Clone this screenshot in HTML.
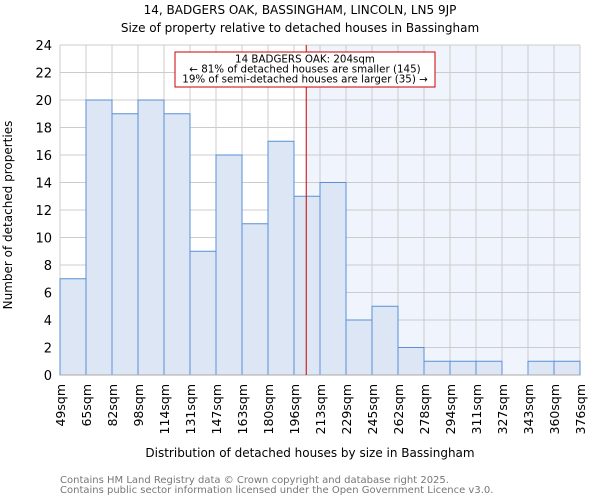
<!DOCTYPE html>
<html><head><meta charset="utf-8"><style>body{margin:0;background:#fff}svg{display:block;font-family:"DejaVu Sans","Liberation Sans",sans-serif}</style></head>
<body>
<svg id="c" width="600" height="500">
<text x="300" y="14" text-anchor="middle" font-size="12">14, BADGERS OAK, BASSINGHAM, LINCOLN, LN5 9JP</text>
<text x="300" y="32" text-anchor="middle" font-size="12">Size of property relative to detached houses in Bassingham</text>
<g id="plot"></g>
<text x="310" y="457" text-anchor="middle" font-size="12">Distribution of detached houses by size in Bassingham</text>
<text transform="translate(12,215) rotate(-90)" text-anchor="middle" font-size="12">Number of detached properties</text>
<text x="60" y="483" font-size="10" fill="#777">Contains HM Land Registry data © Crown copyright and database right 2025.</text>
<text x="60" y="493" font-size="10" fill="#777">Contains public sector information licensed under the Open Government Licence v3.0.</text>
</svg>
<script>
const categories=["49sqm","65sqm","82sqm","98sqm","114sqm","131sqm","147sqm","163sqm","180sqm","196sqm","213sqm","229sqm","245sqm","262sqm","278sqm","294sqm","311sqm","327sqm","343sqm","360sqm","376sqm"];
const counts=[7,20,19,20,19,9,16,11,17,13,14,4,5,2,1,1,1,0,1,1];
const yTicks=[0,2,4,6,8,10,12,14,16,18,20,22,24];
const markerBin=9+8/17;
const NS="http://www.w3.org/2000/svg";
const g=document.getElementById('plot');
const x0=60,x1=580,y0=375,y1=45,bw=(x1-x0)/counts.length;
const X=i=>x0+i*bw, Y=v=>y0-(v/24)*(y0-y1);
function el(t,a,p){const e=document.createElementNS(NS,t);for(const k in a)e.setAttribute(k,a[k]);(p||g).appendChild(e);return e;}
const mx=X(markerBin);
const sh=el('rect',{x:mx,y:y1,width:x1-mx,height:y0-y1,fill:'#f0f4fc'});


yTicks.forEach(v=>{const l=el('line',{x1:x0,x2:x1,y1:Y(v),y2:Y(v),stroke:'#ccc'});


const t=el('text',{x:x0-8,y:Y(v)+5,'text-anchor':'end','font-size':13});t.textContent=v;

});
categories.forEach((c,i)=>{const l=el('line',{x1:X(i),x2:X(i),y1:y1,y2:y0,stroke:'#ccc'});


const t=el('text',{transform:`translate(${X(i)+5},384) rotate(-90)`,'text-anchor':'end','font-size':12.5});t.textContent=c;

});
counts.forEach((v,i)=>{if(!v)return;const r=el('rect',{x:X(i),y:Y(v),width:bw,height:y0-Y(v),fill:'#dce6f4',stroke:'#5a8fd6','stroke-width':1});

});
const ax=el('line',{x1:x0,x2:x1,y1:y0,y2:y0,stroke:'#aaa'});


const ml=el('line',{x1:mx,x2:mx,y1:y1,y2:y0,stroke:'#cc0000','stroke-width':1});


const box=el('rect',{x:175,y:52,width:260,height:35,fill:'#fff',stroke:'#cc0000'});


["14 BADGERS OAK: 204sqm","← 81% of detached houses are smaller (145)","19% of semi-detached houses are larger (35) →"].forEach((s,i)=>{const t=el('text',{x:305,y:62.5+i*10,'text-anchor':'middle','font-size':10.3});t.textContent=s;

});
</script>
</body></html>
